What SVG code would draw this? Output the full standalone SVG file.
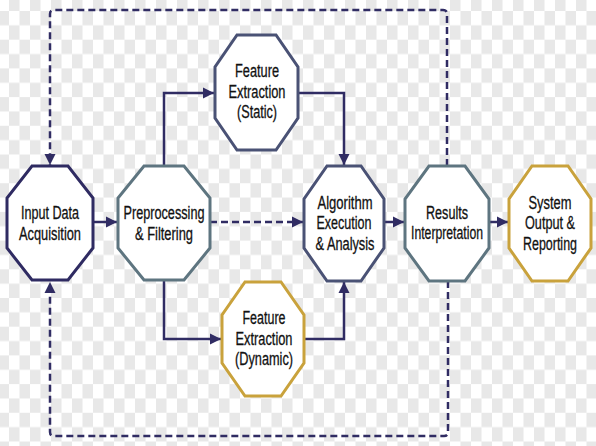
<svg xmlns="http://www.w3.org/2000/svg" width="596" height="446" viewBox="0 0 596 446">
  <defs>
    <pattern id="checker" patternUnits="userSpaceOnUse" x="9" y="11" width="21" height="28.7">
      <rect x="0" y="0" width="21" height="28.7" fill="#ffffff"/>
      <rect x="10.5" y="0" width="10.5" height="14.35" fill="#e8e8e8"/>
      <rect x="0" y="14.35" width="10.5" height="14.35" fill="#e8e8e8"/>
    </pattern>
    <marker id="arrow" viewBox="0 0 10 10" refX="10" refY="5" markerWidth="11" markerHeight="12" markerUnits="userSpaceOnUse" orient="auto">
      <path d="M0,0 L10,5 L0,10 z" fill="#302c63"/>
    </marker>
  </defs>
  <style>
    .node { fill: #ffffff; stroke-width: 3; stroke-linejoin: miter; }
    .navy { stroke: #2f2b62; }
    .slate { stroke: #5e7580; }
    .steel { stroke: #4a5275; }
    .gold { stroke: #c9a23c; }
    .lbl { font-family: "Liberation Sans", Arial, sans-serif; font-size: 17.5px; fill: #111111; stroke: #111111; stroke-width: 0.3; text-anchor: middle; }
    .conn { fill: none; stroke: #302c63; stroke-width: 2.5; marker-end: url(#arrow); }
    .dash { stroke-dasharray: 7 4; }
  </style>

  <rect x="0" y="0" width="596" height="446" fill="url(#checker)"/>

  <g id="connectors">
    <path class="conn" d="M93,222 H117"/>
    <path class="conn dash" d="M210,222 H303"/>
    <path class="conn" d="M164,166 V93 H214"/>
    <path class="conn" d="M298,93 H344 V165"/>
    <path class="conn" d="M164,280 V339 H221"/>
    <path class="conn" d="M304,339 H344 V282"/>
    <path class="conn" d="M384,222 H404"/>
    <path class="conn" d="M489,222 H508"/>
    <path class="conn dash" d="M447,166 V14 Q447,10 443,10 H54 Q50,10 50,14 V165"/>
    <path class="conn dash" d="M448,281 V432 Q448,436 444,436 H54 Q50,436 50,432 V282"/>
  </g>

  <g id="input">
    <polygon class="node navy" points="32,166 68,166 93,198 93,248 68,280 32,280 7,248 7,198"/>
    <text class="lbl" x="50" y="219" textLength="58" lengthAdjust="spacingAndGlyphs">Input Data</text>
    <text class="lbl" x="50" y="240" textLength="62" lengthAdjust="spacingAndGlyphs">Acquisition</text>
  </g>

  <g id="preprocessing">
    <polygon class="node slate" points="144,166 184,166 210,198 210,248 184,280 144,280 118,248 118,198"/>
    <text class="lbl" x="164" y="219" textLength="81" lengthAdjust="spacingAndGlyphs">Preprocessing</text>
    <text class="lbl" x="164" y="240" textLength="58" lengthAdjust="spacingAndGlyphs">&amp; Filtering</text>
  </g>

  <g id="feature-static">
    <polygon class="node steel" points="237,35 276,35 298,67 298,118 276,150 237,150 215,118 215,67"/>
    <text class="lbl" x="257" y="77" textLength="44" lengthAdjust="spacingAndGlyphs">Feature</text>
    <text class="lbl" x="257" y="98" textLength="57" lengthAdjust="spacingAndGlyphs">Extraction</text>
    <text class="lbl" x="257" y="118" textLength="40" lengthAdjust="spacingAndGlyphs">(Static)</text>
  </g>

  <g id="feature-dynamic">
    <polygon class="node gold" points="245,282 281,282 304,315 304,363 281,396 245,396 222,363 222,315"/>
    <text class="lbl" x="264" y="324" textLength="43" lengthAdjust="spacingAndGlyphs">Feature</text>
    <text class="lbl" x="264" y="345" textLength="57" lengthAdjust="spacingAndGlyphs">Extraction</text>
    <text class="lbl" x="264" y="365" textLength="58" lengthAdjust="spacingAndGlyphs">(Dynamic)</text>
  </g>

  <g id="algorithm">
    <polygon class="node steel" points="327,166 361,166 384,199 384,248 361,281 327,281 304,248 304,199"/>
    <text class="lbl" x="345" y="209" textLength="55" lengthAdjust="spacingAndGlyphs">Algorithm</text>
    <text class="lbl" x="344" y="229" textLength="55" lengthAdjust="spacingAndGlyphs">Execution</text>
    <text class="lbl" x="345" y="250" textLength="59" lengthAdjust="spacingAndGlyphs">&amp; Analysis</text>
  </g>

  <g id="results">
    <polygon class="node slate" points="429,166 465,166 489,199 489,248 465,281 429,281 405,248 405,199"/>
    <text class="lbl" x="447" y="219" textLength="42" lengthAdjust="spacingAndGlyphs">Results</text>
    <text class="lbl" x="447" y="239" textLength="72" lengthAdjust="spacingAndGlyphs">Interpretation</text>
  </g>

  <g id="system">
    <polygon class="node gold" points="532,166 568,166 591,199 591,248 568,281 532,281 509,248 509,199"/>
    <text class="lbl" x="550" y="209" textLength="43" lengthAdjust="spacingAndGlyphs">System</text>
    <text class="lbl" x="550" y="229" textLength="50" lengthAdjust="spacingAndGlyphs">Output &amp;</text>
    <text class="lbl" x="550" y="250" textLength="54" lengthAdjust="spacingAndGlyphs">Reporting</text>
  </g>
</svg>
